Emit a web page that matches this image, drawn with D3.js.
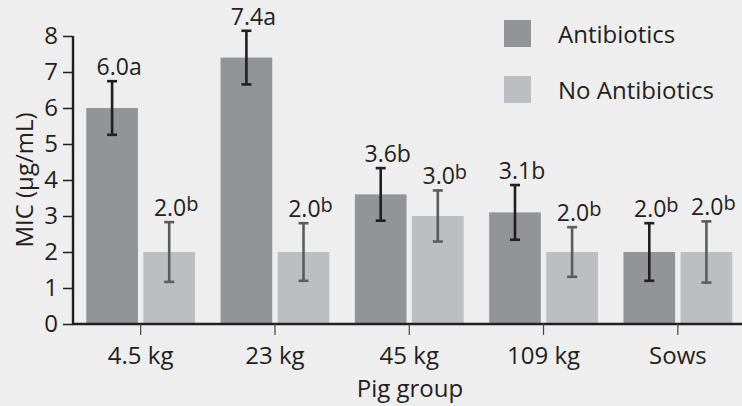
<!DOCTYPE html>
<html>
<head>
<meta charset="utf-8">
<script src="https://cdn.jsdelivr.net/npm/d3@7"></script>
<style>
  body { margin: 0; background: #eeeeee; }
  svg { display: block; }
  text { font-family: 'Open Sans', sans-serif; fill: #231f20; }
</style>
</head>
<body>
<div id="chart"></div>
<script>
/** --- DATA --- */
const groups = ['4.5 kg', '23 kg', '45 kg', '109 kg', 'Sows'];
const series = ['Antibiotics', 'No Antibiotics'];

const antibiotics = [6.0, 7.4, 3.6, 3.1, 2.0];
const noAntibiotics = [2.0, 2.0, 3.0, 2.0, 2.0];
const antibioticsErr = [0.745, 0.745, 0.73, 0.76, 0.8];
const noAntibioticsErr = [0.83, 0.8, 0.71, 0.69, 0.85];
const antibioticsLetter = ['a', 'a', 'b', 'b', 'b'];
const noAntibioticsLetter = ['b', 'b', 'b', 'b', 'b'];
// letters printed as superscript in the figure
const antibioticsSup = [false, false, false, false, true];
const noAntibioticsSup = [true, true, true, true, true];

const yTicks = [0, 1, 2, 3, 4, 5, 6, 7, 8];

/** --- DIMENSIONS --- */
const width = 742;
const height = 406;

const svg = d3.select('#chart')
  .append('svg')
  .attr('width', width)
  .attr('height', height);

const barColor = { 'Antibiotics': '#939498', 'No Antibiotics': '#bdbec2' };
const errColor = { 'Antibiotics': '#231f20', 'No Antibiotics': '#5b5c5e' };

/** --- SCALES --- */
const x0 = d3.scaleBand()
  .domain(groups)
  .range([73.5, 745])
  .paddingInner(0.19)
  .paddingOuter(0.095);

const x1 = d3.scaleBand()
  .domain(series)
  .range([0, x0.bandwidth()])
  .paddingInner(0.095);

const y = d3.scaleLinear()
  .domain([0, 8])
  .range([324, 36]);

const rows = [];
groups.forEach(function(g, i) {
  rows.push({ group: g, key: series[0], value: antibiotics[i], err: antibioticsErr[i],
    letter: antibioticsLetter[i], sup: antibioticsSup[i] });
  rows.push({ group: g, key: series[1], value: noAntibiotics[i], err: noAntibioticsErr[i],
    letter: noAntibioticsLetter[i], sup: noAntibioticsSup[i] });
});

const cx = function(d) { return x0(d.group) + x1(d.key) + x1.bandwidth() / 2; };

/** --- BARS --- */
svg.append('g')
  .selectAll('rect')
  .data(rows)
  .join('rect')
  .attr('x', function(d) { return x0(d.group) + x1(d.key); })
  .attr('y', function(d) { return y(d.value); })
  .attr('width', x1.bandwidth())
  .attr('height', function(d) { return y(0) - y(d.value); })
  .attr('fill', function(d) { return barColor[d.key]; });

/** --- ERROR BARS --- */
const eb = svg.append('g')
  .selectAll('g')
  .data(rows)
  .join('g')
  .attr('stroke', function(d) { return errColor[d.key]; })
  .attr('stroke-width', 2.6);

eb.append('line')
  .attr('x1', cx).attr('x2', cx)
  .attr('y1', function(d) { return y(d.value + d.err); })
  .attr('y2', function(d) { return y(d.value - d.err); });

eb.append('line')
  .attr('x1', function(d) { return cx(d) - 5; })
  .attr('x2', function(d) { return cx(d) + 5; })
  .attr('y1', function(d) { return y(d.value + d.err); })
  .attr('y2', function(d) { return y(d.value + d.err); });

eb.append('line')
  .attr('x1', function(d) { return cx(d) - 5; })
  .attr('x2', function(d) { return cx(d) + 5; })
  .attr('y1', function(d) { return y(d.value - d.err); })
  .attr('y2', function(d) { return y(d.value - d.err); });

/** --- VALUE LABELS --- */
const lbl = svg.append('g')
  .selectAll('text')
  .data(rows)
  .join('text')
  .attr('x', function(d) { return cx(d) + 7; })
  .attr('y', function(d) { return y(d.value + d.err) - 6; })
  .attr('text-anchor', 'middle')
  .style('font-size', '23px');

lbl.append('tspan')
  .text(function(d) { return d.value.toFixed(1); });

lbl.append('tspan')
  .attr('dy', function(d) { return d.sup ? -5 : 0; })
  .style('font-size', function(d) { return d.sup ? '20px' : '23px'; })
  .text(function(d) { return d.letter; });

/** --- AXES --- */
const yAxis = svg.append('g')
  .attr('transform', 'translate(73,0)')
  .call(d3.axisLeft(y).tickValues(yTicks).tickSize(10).tickPadding(5).tickFormat(d3.format('d')));

yAxis.select('.domain')
  .attr('d', 'M0,' + y(8) + 'V' + y(0))
  .attr('stroke', '#231f20')
  .attr('stroke-width', 2.4);
yAxis.selectAll('.tick line').attr('stroke', '#231f20').attr('stroke-width', 1.5);
yAxis.selectAll('.tick text')
  .style('font-size', '24px')
  .style('font-family', "'Open Sans', sans-serif")
  .attr('fill', '#231f20');

const xAxis = svg.append('g')
  .attr('transform', 'translate(0,' + y(0) + ')')
  .call(d3.axisBottom(x0).tickSize(11).tickPadding(10));

xAxis.select('.domain')
  .attr('d', 'M72,0H742')
  .attr('stroke', '#231f20')
  .attr('stroke-width', 2.4);
xAxis.selectAll('.tick line').attr('stroke', '#444').attr('stroke-width', 1.2);
xAxis.selectAll('.tick text')
  .attr('y', 0)
  .attr('dy', 40)
  .style('font-size', '24px')
  .style('font-family', "'Open Sans', sans-serif")
  .attr('fill', '#231f20');

svg.append('text')
  .attr('x', 410)
  .attr('y', 397)
  .attr('text-anchor', 'middle')
  .style('font-size', '24px')
  .text('Pig group');

svg.append('text')
  .attr('transform', 'translate(33,' + (y(4)) + ') rotate(-90)')
  .attr('text-anchor', 'middle')
  .style('font-size', '24px')
  .text('MIC (µg/mL)');

/** --- LEGEND --- */
const legend = svg.append('g')
  .selectAll('g')
  .data(series)
  .join('g')
  .attr('transform', function(d, i) { return 'translate(504,' + (20 + i * 56) + ')'; });

legend.append('rect')
  .attr('width', 27)
  .attr('height', 27)
  .attr('fill', function(d) { return barColor[d]; });

legend.append('text')
  .attr('x', 54)
  .attr('y', 23)
  .style('font-size', '24px')
  .text(function(d) { return d; });
</script>
</body>
</html>
